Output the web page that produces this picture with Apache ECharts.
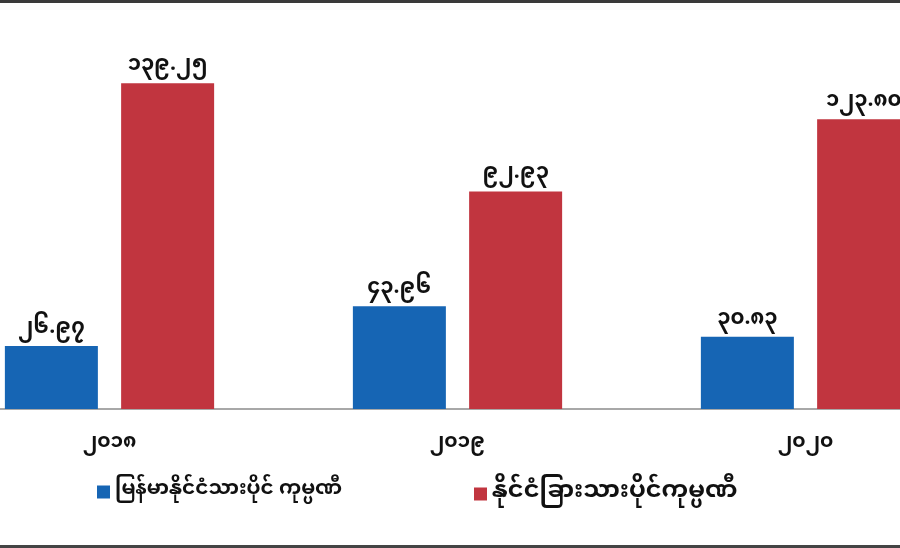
<!DOCTYPE html>
<html>
<head>
<meta charset="utf-8">
<script src="https://cdn.jsdelivr.net/npm/echarts@6/dist/echarts.min.js"></script>
<style>
html,body{margin:0;padding:0;background:#fff;}
#c{width:900px;height:548px;}
</style>
</head>
<body>
<div id="c"></div>
<script>
var categories = ['၂၀၁၈', '၂၀၁၉', '၂၀၂၀'];
var seriesNames = ['မြန်မာနိုင်ငံသားပိုင် ကုမ္ပဏီ', 'နိုင်ငံခြားသားပိုင်ကုမ္ပဏီ'];
var localValues = [26.97, 43.96, 30.83];
var foreignValues = [139.25, 92.93, 123.80];

var MY_DIGITS = ['၀','၁','၂','၃','၄','၅','၆','၇','၈','၉'];
function toMyanmar(v) {
  return v.toFixed(2).replace(/[0-9]/g, function (d) { return MY_DIGITS[+d]; });
}
var FONT = '"Noto Sans Myanmar", "Padauk", "Myanmar Text", "Noto Sans", sans-serif';

var chart = echarts.init(document.getElementById('c'));
var labelStyle = {
  show: true,
  position: 'top',
  distance: 5,
  color: '#111',
  fontSize: 21,
  fontWeight: 'bold',
  fontFamily: FONT,
  formatter: function (p) { return toMyanmar(p.value); }
};
chart.setOption({
  animation: false,
  backgroundColor: '#fff',
  grid: { left: -64.5, width: 1044, top: 58, bottom: 139, containLabel: false, outerBoundsMode: 'none' },
  xAxis: {
    type: 'category',
    data: categories,
    axisLine: { lineStyle: { color: '#a8a8a8', width: 2 } },
    axisTick: { show: false },
    axisLabel: { color: '#111', fontSize: 20, fontWeight: 'bold', fontFamily: FONT, margin: 26 }
  },
  yAxis: { type: 'value', min: 0, max: 150, show: false, splitLine: { show: false } },
  legend: [
    { data: [seriesNames[0]], left: 92, top: 477, itemWidth: 13, itemHeight: 13, icon: 'rect', itemGap: 6,
      textStyle: { color: '#111', fontSize: 20, fontWeight: 'bold', fontFamily: FONT } },
    { data: [seriesNames[1]], left: 469, top: 477, itemWidth: 13, itemHeight: 13, icon: 'rect',
      textStyle: { color: '#111', fontSize: 24, fontWeight: 'bold', fontFamily: FONT } }
  ],
  graphic: [
    { type: 'rect', left: 0, top: 0, shape: { width: 900, height: 3 }, style: { fill: '#3a3a3a' }, z: 100 },
    { type: 'rect', left: 0, top: 545, shape: { width: 900, height: 3 }, style: { fill: '#444' }, z: 100 }
  ],
  series: [
    { name: seriesNames[0], type: 'bar', data: localValues, barWidth: 93, barGap: '25%',
      itemStyle: { color: '#1665b4' }, label: labelStyle },
    { name: seriesNames[1], type: 'bar', data: foreignValues, barWidth: 93,
      itemStyle: { color: '#c1353f' }, label: labelStyle }
  ]
});
</script>
</body>
</html>
